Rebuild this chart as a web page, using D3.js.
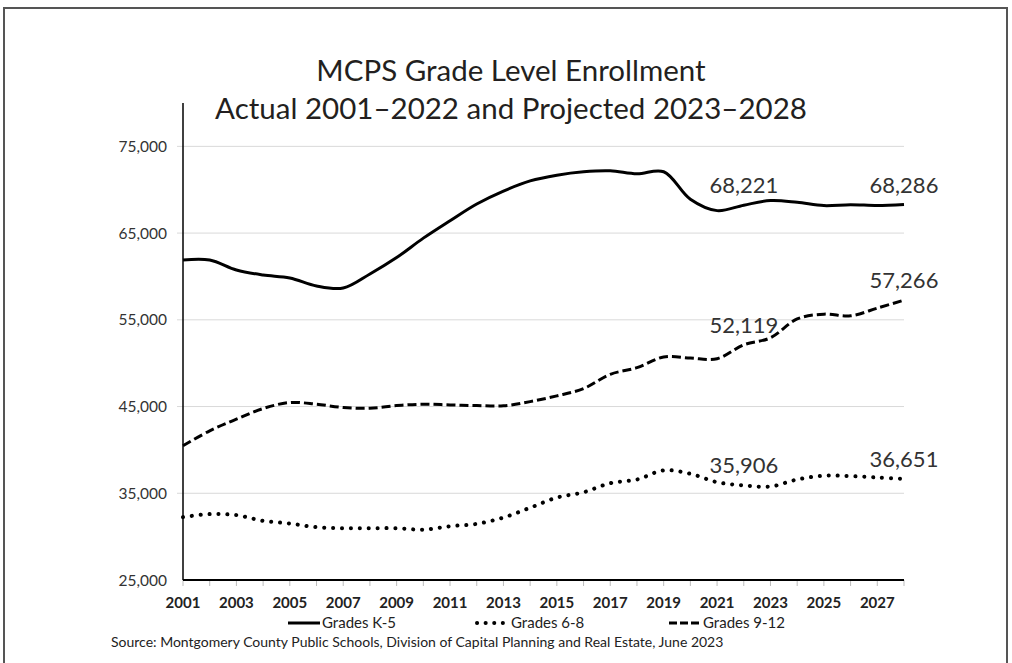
<!DOCTYPE html>
<html>
<head>
<meta charset="utf-8">
<script src="https://cdn.jsdelivr.net/npm/d3@7"></script>
<style>
  body { margin: 0; background: #fff; }
  svg { display: block; font-family: Lato, "Open Sans", sans-serif; }
</style>
</head>
<body>
<div id="chart"></div>
<script>
// DATA
const years = d3.range(2001, 2029);
const gradesK5 = [61900, 61900, 60750, 60170, 59830, 58900, 58670, 60290, 62180, 64420,
  66430, 68360, 69850, 71020, 71680, 72070, 72180, 71830, 72070, 68900,
  67590, 68221, 68750, 68550, 68170, 68280, 68170, 68286];
const grades68 = [32250, 32600, 32480, 31820, 31510, 31090, 30970, 30970, 30970, 30810,
  31200, 31470, 32200, 33330, 34500, 35120, 36160, 36590, 37640, 37250,
  36280, 35906, 35780, 36590, 37020, 36980, 36820, 36651];
const grades912 = [40480, 42200, 43540, 44770, 45460, 45270, 44890, 44810, 45110, 45270,
  45190, 45110, 45080, 45570, 46230, 47070, 48720, 49480, 50710, 50590,
  50520, 52119, 52930, 55100, 55650, 55460, 56350, 57266];
const yTicks = [25000, 35000, 45000, 55000, 65000, 75000];
const xTickLabels = d3.range(2001, 2028, 2);
const seriesNames = ["Grades K-5", "Grades 6-8", "Grades 9-12"];
const labelYears = [2022, 2028];

// SIZE
const width = 1012, height = 663;
const svg = d3.select("#chart").append("svg")
  .attr("width", width).attr("height", height);

// outer frame
svg.append("rect")
  .attr("x", 4).attr("y", 8).attr("width", 1003).attr("height", 670)
  .attr("fill", "none").attr("stroke", "#555").attr("stroke-width", 2);

const x = d3.scaleLinear().domain([2001, 2028]).range([183, 904]);
const y = d3.scaleLinear().domain([25000, 80000]).range([580, 103]);

// TITLE
svg.append("text").attr("x", 511).attr("y", 81).attr("text-anchor", "middle")
  .attr("font-size", 29.5).attr("fill", "#231f20").text("MCPS Grade Level Enrollment");
svg.append("text").attr("x", 511).attr("y", 119).attr("text-anchor", "middle")
  .attr("font-size", 29.5).attr("fill", "#231f20").text("Actual 2001–2022 and Projected 2023–2028");

// GRIDLINES
svg.append("g").selectAll("line")
  .data(yTicks.filter(d => d > 25000))
  .join("line")
  .attr("x1", x(2001) - 6).attr("x2", x(2028))
  .attr("y1", d => y(d)).attr("y2", d => y(d))
  .attr("stroke", "#d9d9d9").attr("stroke-width", 1);

// Y AXIS
svg.append("line").attr("x1", x(2001)).attr("x2", x(2001))
  .attr("y1", y(80000)).attr("y2", y(25000))
  .attr("stroke", "#000").attr("stroke-width", 1.5);
svg.append("g").selectAll("text")
  .data(yTicks).join("text")
  .attr("x", 167).attr("y", d => y(d) + 5.5)
  .attr("text-anchor", "end").attr("font-size", 15.5).attr("fill", "#333")
  .text(d => d3.format(",")(d));

// X AXIS
svg.append("g").selectAll("line")
  .data(years).join("line")
  .attr("x1", d => x(d)).attr("x2", d => x(d))
  .attr("y1", y(25000)).attr("y2", y(25000) + 6)
  .attr("stroke", "#bbb").attr("stroke-width", 1);
svg.append("line").attr("x1", x(2001)).attr("x2", x(2028))
  .attr("y1", y(25000)).attr("y2", y(25000))
  .attr("stroke", "#000").attr("stroke-width", 2);
svg.append("g").selectAll("text")
  .data(xTickLabels).join("text")
  .attr("x", d => x(d)).attr("y", 608)
  .attr("text-anchor", "middle").attr("font-size", 15).attr("font-weight", "bold")
  .attr("fill", "#222").text(d => d);

// LINES
const styles = [
  { data: gradesK5, dash: null, cap: "butt", w: 3 },
  { data: grades68, dash: "0.1 8.8", cap: "round", w: 4 },
  { data: grades912, dash: "9 4", cap: "butt", w: 3 }
];
const line = d3.line()
  .x((d, i) => x(years[i]))
  .y(d => y(d))
  .curve(d3.curveCatmullRom.alpha(0.5));

styles.forEach(s => {
  svg.append("path")
    .attr("d", line(s.data))
    .attr("fill", "none").attr("stroke", "#000")
    .attr("stroke-width", s.w)
    .attr("stroke-linecap", s.cap)
    .attr("stroke-dasharray", s.dash);
});

// VALUE LABELS
styles.forEach(s => {
  labelYears.forEach(yr => {
    const v = s.data[years.indexOf(yr)];
    svg.append("text")
      .attr("x", x(yr))
      .attr("y", y(v) - 12)
      .attr("text-anchor", "middle").attr("font-size", 22).attr("fill", "#333")
      .text(d3.format(",")(v));
  });
});

// LEGEND
const legendX = [288, 477, 669];
const legend = svg.append("g");
styles.forEach((s, i) => {
  legend.append("line")
    .attr("x1", legendX[i]).attr("x2", legendX[i] + 32)
    .attr("y1", 623).attr("y2", 623)
    .attr("stroke", "#000").attr("stroke-width", s.w)
    .attr("stroke-linecap", s.cap)
    .attr("stroke-dasharray", s.dash ? (i === 1 ? "0.1 8.5" : "8 3") : null);
  legend.append("text")
    .attr("x", legendX[i] + 34).attr("y", 628)
    .attr("font-size", 15).attr("fill", "#222")
    .text(seriesNames[i]);
});

// SOURCE
svg.append("text").attr("x", 111).attr("y", 647)
  .attr("font-size", 14).attr("fill", "#222")
  .text("Source: Montgomery County Public Schools, Division of Capital Planning and Real Estate, June 2023");
</script>
</body>
</html>
